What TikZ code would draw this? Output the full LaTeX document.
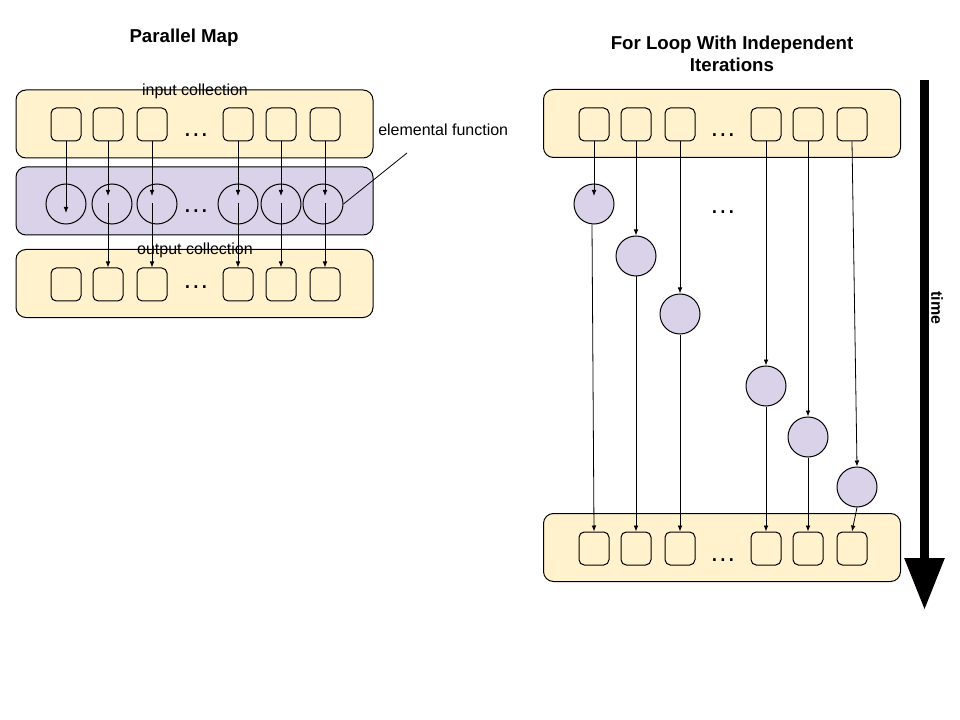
\documentclass[tikz,border=0pt]{standalone}
\usepackage{fontspec}
\setmainfont{Liberation Sans}
\usetikzlibrary{arrows.meta}
\definecolor{collfill}{HTML}{FFF2CC}
\definecolor{funcfill}{HTML}{D9D2E9}
\begin{document}
\begin{tikzpicture}[x=0.75pt,y=-0.75pt,
  container/.style={draw=black, line width=0.75pt, rounded corners=7.5pt,
    minimum width=267.75pt, minimum height=51pt, inner sep=0pt},
  incoll/.style={container, fill=collfill},
  funccoll/.style={container, fill=funcfill},
  elem/.style={draw=black, line width=0.75pt, rounded corners=4pt,
    minimum width=22.5pt, minimum height=24.75pt, inner sep=0pt},
  func/.style={draw=black, line width=0.75pt, circle, minimum size=30pt, inner sep=0pt},
  funcfilled/.style={func, fill=funcfill},
  arr/.style={draw=black, line width=0.6pt, -{Latex[length=4.5pt,width=3.5pt]}},
  plain/.style={draw=black, line width=0.6pt},
  dots/.style={font=\fontsize{20}{20}\selectfont, inner sep=0pt},
  lbl/.style={font=\fontsize{12}{14}\selectfont, inner sep=0pt},
  heading/.style={font=\fontsize{14}{16.5}\selectfont\bfseries, align=center, inner sep=0pt}
]
\useasboundingbox (0,0) rectangle (960,720);

% ---------------- Parallel map ----------------
\node[heading] (ptitle) at (184,38) {Parallel Map};

\node[incoll]   (pin)  at (194.5,124)   {};
\node[funccoll] (pfun) at (194.5,201)   {};
\node[incoll]   (pout) at (194.5,283.5) {};

\foreach \i/\x in {1/66,2/108,3/152,4/238,5/281,6/325}{
  \node[elem] (pi\i) at (\x,124.5) {};
  \node[elem] (po\i) at (\x,284.5) {};
}
\foreach \i/\x in {1/66,2/112,3/157,4/238,5/281,6/323}{
  \node[func] (pf\i) at (\x,204) {};
}
\node[dots] (pd1) at (196,135) {…};
\node[dots] (pd2) at (196,211) {…};
\node[dots] (pd3) at (196,287) {…};

\node[lbl] (inlbl)  at (195,91)  {input collection};
\node[lbl] (outlbl) at (195,250) {output collection};
\node[lbl, anchor=west] (eflbl) at (378,130) {elemental function};
\coordinate (efend) at (407,153);
\draw[plain] (efend) -- (pf6.east);

% first element: arrow ends inside the function circle
\draw[arr] (pi1.south) -- ([yshift=-6.75pt]pi1.south |- pf1.center);
\foreach \i in {2,...,6}{
  \draw[arr] (pi\i.south) -- ([yshift=6pt]pi\i.south |- pf\i.center);
  \draw[arr] ([yshift=0.75pt]po\i.north |- pf\i.center) -- (po\i.north);
}

% ---------------- For loop ----------------
\node[heading] (ftitle) at (732,54) {For Loop With Independent\\Iterations};

\node[incoll] (fin)  at (722,123.5) {};
\node[incoll] (fout) at (722,547.5) {};

\foreach \i/\x in {1/594,2/636,3/680,4/766,5/808,6/852}{
  \node[elem] (fi\i) at (\x,124.5) {};
  \node[elem] (fo\i) at (\x,548.5) {};
}
\node[funcfilled] (ff1) at (594,204) {};
\node[funcfilled] (ff2) at (636,256) {};
\node[funcfilled] (ff3) at (680,314) {};
\node[funcfilled] (ff4) at (766,386) {};
\node[funcfilled] (ff5) at (808,437) {};
\node[funcfilled] (ff6) at (857,487) {};

\node[dots] (fd1) at (723,135) {…};
\node[dots] (fd2) at (723,212) {…};
\node[dots] (fd3) at (723,560) {…};

\draw[arr] (fi1.south) -- ([yshift=6pt]fi1.south |- ff1.center);
\draw[arr] ([xshift=-1.5pt]ff1.south) -- (fo1.north);
\foreach \i in {2,...,6}{
  \draw[arr] (fi\i.south) -- (ff\i.north);
  \draw[arr] (ff\i.south) -- (fo\i.north);
}

% time axis
\coordinate (tstart) at (924.5,80);
\coordinate (tend)   at (924.5,610);
\draw[line width=6.75pt, -{Triangle[length=39pt,width=28.5pt]}] (tstart) -- (tend);
\node[font=\fontsize{12}{14}\selectfont\bfseries, rotate=-90, inner sep=0pt] (tlbl) at (937,308) {time};
\end{tikzpicture}
\end{document}
